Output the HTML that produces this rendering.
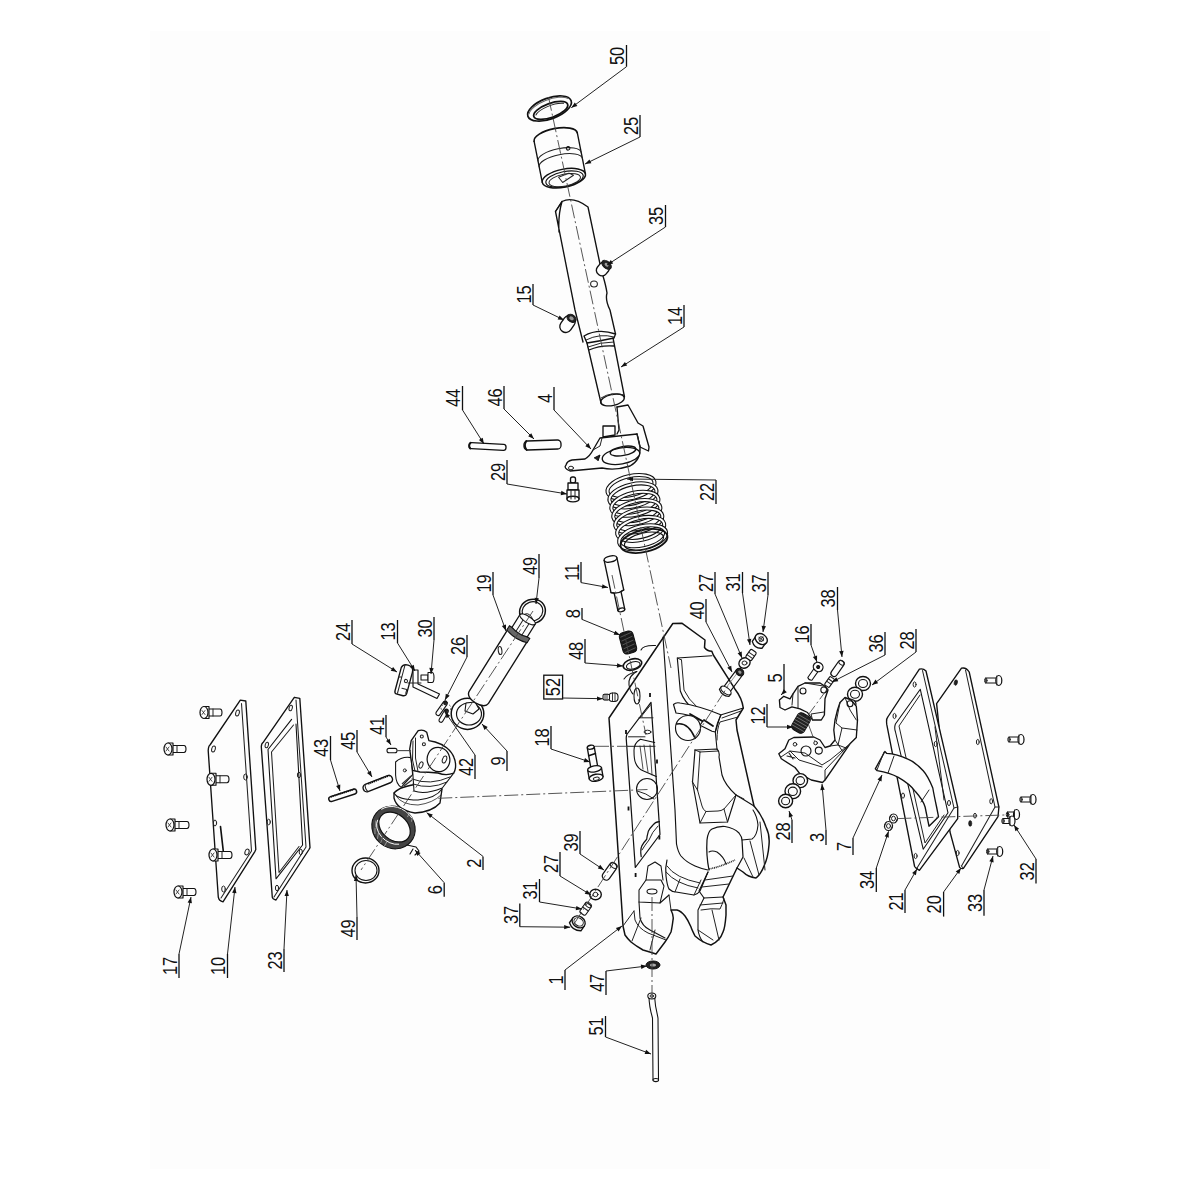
<!DOCTYPE html>
<html><head><meta charset="utf-8"><style>
html,body{margin:0;padding:0;background:#fff;width:1200px;height:1200px;overflow:hidden}
svg{display:block}
.lb{font-family:"Liberation Sans",sans-serif;font-size:20.5px;fill:#111;text-anchor:middle}
.ul{stroke:#111;stroke-width:1.3;fill:none}
.ld{stroke:#222;stroke-width:1;fill:none}
.ah{fill:#111}
.o{stroke:#111;stroke-width:1.35;fill:none;stroke-linejoin:round;stroke-linecap:round}
.of{stroke:#111;stroke-width:1.35;fill:#fdfdfd;stroke-linejoin:round;stroke-linecap:round}
.t{stroke:#222;stroke-width:1;fill:none;stroke-linejoin:round;stroke-linecap:round}
.c{stroke:#444;stroke-width:0.9;fill:none;stroke-dasharray:14 3 2 3}
.dk{fill:#222;stroke:#111;stroke-width:1}
</style></head><body>
<svg width="1200" height="1200" viewBox="0 0 1200 1200">
<rect x="0" y="0" width="1200" height="1200" fill="#fff"/>
<rect x="150" y="31" width="900" height="1138" fill="#fdfdfd"/>
<!-- centerline main -->
<!-- ring 50 -->
<g transform="translate(549.5,108.5) rotate(-20)">
<ellipse rx="23" ry="10.5" class="o" style="stroke-width:1.64"/>
<ellipse cx="0.5" cy="2.2" rx="18" ry="7" class="o" style="stroke-width:1.80"/>
<path d="M-15 1.5A17 6 0 0 1 15 0" class="t"/>
<path d="M-21 -2A22 9 0 0 1 21 -3" class="t" style="stroke:#666"/>
</g>
<!-- bushing 25 -->
<g transform="translate(555.7,137) rotate(-11.2)">
<path d="M-22 0A22 8.5 0 0 1 22 0" class="o" style="stroke-width:1.64"/>
<path d="M-22 0L-22 42M22 0L22 42" class="o"/>
<path d="M-22 20A22 8 0 0 1 22 20M-22 26A22 8 0 0 1 22 26" class="t" style="stroke-width:1.07"/>
<circle cx="10" cy="13.5" r="1.8" class="o" style="stroke-width:1.05"/>
<ellipse cx="0" cy="42" rx="22" ry="9" class="o" style="stroke-width:1.48"/>
<ellipse cx="0.5" cy="43" rx="19" ry="7.5" class="o" style="stroke-width:1.15"/>
<ellipse cx="0.5" cy="44" rx="16" ry="6" class="t"/>
<path d="M-5 40L6 38L10 41L-2 46Z" class="t"/>
</g>
<!-- shaft 14 -->
<path d="M562 201.5Q573 196 588 207L600 264M603 276Q606 286 607 293Q605 300 610 310L615.5 334M583 342L575 310L555.5 211.5L562 201.5Q558 215 559 232" class="o"/>
<path d="M562 201.5L555.5 211.5" class="o"/>
<path d="M584 336Q598 328 615.5 334L614 338Q600 341 587 343Z" class="of"/>
<path d="M586 340Q600 333 614 337" class="t"/>
<path d="M587 343L601 403M613 338L624.5 397M589 350Q600 345 614 346" class="o"/>
<path d="M588 347Q600 342 613.5 342" class="t"/>
<ellipse cx="612.5" cy="400" rx="12" ry="5.5" transform="rotate(-12 612.5 400)" class="o"/>
<path d="M601 398Q612 391 624 395" class="t"/>
<ellipse cx="594" cy="284" rx="3.4" ry="3" class="t" style="stroke-width:1.05"/>
<!-- pin 35 -->
<g transform="translate(603,269) rotate(40)">
<rect x="-5.5" y="-7" width="11" height="14" rx="5" class="of"/>
<ellipse cx="0" cy="-5.5" rx="5.5" ry="3.5" class="dk"/><ellipse cx="0" cy="-5.5" rx="2.2" ry="1.5" style="fill:#999"/>
</g>
<!-- pin 15 -->
<g transform="translate(567.5,324) rotate(35)">
<rect x="-6" y="-9" width="12" height="18" rx="6" class="of"/>
<ellipse cx="0" cy="-7" rx="5" ry="3.6" class="dk"/><ellipse cx="0" cy="-7" rx="2.4" ry="1.7" style="fill:#999"/>
</g>
<!-- pins 44, 46 -->
<g transform="translate(487.5,446.5) rotate(3)">
<rect x="-18.5" y="-3" width="37" height="6" rx="2.5" class="of"/>
<path d="M-17 -3Q-19.5 0 -17 3" class="o" style="stroke-width:1.80"/>
</g>
<g transform="translate(542.5,445) rotate(-2)">
<rect x="-18.5" y="-4.5" width="37" height="9" rx="3.5" class="of"/>
<path d="M-16 -4.5Q-19 0 -16 4.5" class="o" style="stroke-width:1.80"/>
</g>
<!-- part 29 -->
<g transform="translate(573,488)">
<rect x="-2.5" y="-11" width="5" height="6" rx="2" class="o"/>
<rect x="-5" y="-5" width="10" height="7" class="of"/>
<rect x="-6" y="2" width="12" height="9" class="of"/>
<ellipse cx="0" cy="11" rx="6" ry="2.8" class="of"/>
<path d="M-2 2V11M2 2V11" class="t"/>
</g>

<g transform="translate(631,487) rotate(-13)">
<ellipse cx="0" cy="0.0" rx="24" ry="11" style="fill:none;stroke:#111;stroke-width:4.10"/>
<ellipse cx="0" cy="0.0" rx="24" ry="11" style="fill:none;stroke:#fdfdfd;stroke-width:1.97"/>
<ellipse cx="0" cy="8.6" rx="24" ry="11" style="fill:none;stroke:#111;stroke-width:4.10"/>
<ellipse cx="0" cy="8.6" rx="24" ry="11" style="fill:none;stroke:#fdfdfd;stroke-width:1.97"/>
<ellipse cx="0" cy="17.2" rx="24" ry="11" style="fill:none;stroke:#111;stroke-width:4.10"/>
<ellipse cx="0" cy="17.2" rx="24" ry="11" style="fill:none;stroke:#fdfdfd;stroke-width:1.97"/>
<ellipse cx="0" cy="25.8" rx="24" ry="11" style="fill:none;stroke:#111;stroke-width:4.10"/>
<ellipse cx="0" cy="25.8" rx="24" ry="11" style="fill:none;stroke:#fdfdfd;stroke-width:1.97"/>
<ellipse cx="0" cy="34.4" rx="24" ry="11" style="fill:none;stroke:#111;stroke-width:4.10"/>
<ellipse cx="0" cy="34.4" rx="24" ry="11" style="fill:none;stroke:#fdfdfd;stroke-width:1.97"/>
<ellipse cx="0" cy="43.0" rx="24" ry="11" style="fill:none;stroke:#111;stroke-width:4.10"/>
<ellipse cx="0" cy="43.0" rx="24" ry="11" style="fill:none;stroke:#fdfdfd;stroke-width:1.97"/>
<ellipse cx="0" cy="51.6" rx="24" ry="11" style="fill:none;stroke:#111;stroke-width:4.10"/>
<ellipse cx="0" cy="51.6" rx="24" ry="11" style="fill:none;stroke:#fdfdfd;stroke-width:1.97"/>
</g>
<g transform="translate(644,541) rotate(-13)"><ellipse rx="24" ry="11" class="o" style="stroke-width:1.80"/><ellipse rx="20" ry="8" class="o" style="stroke-width:1.15"/></g>
<g>
<path d="M617 407L628 405L638 423L643 426L649 447L648.5 451L640 447L637 434" class="of"/>
<path d="M600 438L637 434L640 447Q641 460 630 466Q615 471 602 468L570 471Q563 468 566 465Q567 461 572 460L585 459Q590 456 593 450L600 438Z" class="of"/>
<path d="M617 407L619 430L617 434M603 426L615 426L615 435L603 437Z" class="o"/>
<ellipse cx="621" cy="456" rx="19" ry="8" transform="rotate(-10 621 456)" class="of"/>
<ellipse cx="623" cy="451" rx="13" ry="4.5" transform="rotate(-10 623 451)" class="o"/>
<path d="M593 450L600 446L602 438M637 434L640 447" class="t"/>
<ellipse cx="571" cy="468" rx="2.5" ry="1.8" class="t"/>
<path d="M594 458L600 455L598 461" class="dk"/>
</g>
<g transform="translate(610.5,559) rotate(-12)">
<path d="M-6.5 0L-6.5 33L-3.5 34L-3.5 52M6.5 0L6.5 33L3.5 34L3.5 52" class="o"/>
<ellipse cx="0" cy="0" rx="6.5" ry="3" class="of"/>
<path d="M-6.5 33Q0 36 6.5 33" class="o"/>
<ellipse cx="0" cy="52" rx="3.5" ry="1.8" class="o"/>
</g>
<g transform="translate(628,642.5) rotate(-15)"><rect x="-7" y="-11" width="14" height="22" rx="4" style="fill:#1a1a1a;stroke:#111;stroke-width:1.05"/><path d="M-6 -7L6 -9M-6 -3L6 -5M-6 1L6 -1M-6 5L6 3M-6 9L6 7" style="stroke:#666;stroke-width:0.70"/></g>
<g transform="translate(632.5,664.5) rotate(-15)"><ellipse rx="9.5" ry="5.5" class="o" style="stroke-width:1.64"/><ellipse cx="0.5" cy="1" rx="7" ry="3.5" class="o" style="stroke-width:1.05"/></g>
<g transform="translate(610,697)">
<rect x="-1" y="-4" width="9" height="8.5" rx="3.5" class="of" style="stroke-width:1.07"/>
<rect x="-7" y="-2.8" width="6.5" height="5.8" rx="1.5" class="of" style="stroke-width:1.05"/>
<path d="M-5 -2.8V3M-3 -2.8V3M2.5 -4V4.5M5 -4V4.5" class="t" style="stroke-width:0.90"/>
</g>
<g transform="translate(593,760) rotate(-10)">
<path d="M-3.5 -13L-3.5 8M3.5 -13L3.5 8" class="o"/>
<ellipse cx="0" cy="-13" rx="3.5" ry="2" class="of"/>
<path d="M-3.5 -5L3.5 -6" class="o" style="stroke-width:1.64"/>
<path d="M-7 9L-7 18M7 9L7 18" class="o"/>
<ellipse cx="0" cy="9" rx="7" ry="3" class="of"/>
<ellipse cx="0" cy="18" rx="7" ry="3.5" class="of"/>
<ellipse cx="0" cy="19" rx="3" ry="1.6" class="t"/>
</g>

<ellipse cx="467.5" cy="713.8" rx="16.3" ry="15.6" class="of" style="stroke-width:1.48"/>
<ellipse cx="469" cy="714" rx="12.5" ry="11" class="o" style="stroke-width:1.15"/>
<path d="M466 703L475 702L479 709L473 714L465 711Z" class="of" style="stroke-width:1.07"/>
<ellipse cx="532.5" cy="611.3" rx="13" ry="12" transform="rotate(-20 532.5 611.3)" class="o" style="stroke-width:1.48"/>
<ellipse cx="532.5" cy="611.3" rx="10.5" ry="9.5" transform="rotate(-20 532.5 611.3)" class="o" style="stroke-width:1.15"/>
<path d="M525 614Q530 612 533 620" class="t"/>
<g transform="translate(517.5,635.5) rotate(32)">
<path d="M-11.4 0L-11.4 73Q-11 79 0 79.5Q11 79 11.4 73L11.4 0Z" class="of"/>
<ellipse cx="-6.8" cy="22" rx="1.8" ry="4" transform="rotate(-40 -6.8 22)" class="t" style="stroke-width:1.07"/>
<path d="M-12 -4L-12 1Q0 5 12 1L12 -4Z" style="fill:#666;stroke:#111;stroke-width:1.05"/>
<path d="M-9 -19L-9 -4Q0 -1 9 -4L9 -19Z" class="of" style="stroke-width:1.15"/>
<path d="M-3.5 -17.5L-3.5 -2.5M3.5 -17.5L3.5 -2.5" class="t"/>
<ellipse cx="0" cy="-19" rx="9" ry="3.2" class="of" style="stroke-width:1.07"/>
</g>

<!-- main body part 1 silhouette -->
<path d="M672.8 623.5L681.8 623.2L705 640L704.5 647.5Q707 651 711.8 651.3L713.3 655L734.7 688.7Q742 698 743.3 708L736 720L737 730L754 806Q762 815 766 827Q770 835 769 845Q768 858 764 866Q761 874 756 878Q748 877 743 872L737 868L723 897L726 905L726 915Q725 928 723 932Q720 941 711 945Q703 943 695 936Q692 930 691 927Q688 920 685 916Q681 911 677 910L671 910Q674 916 673 920Q672 928 671 932Q668 938 665 942L656 954Q650 952 643 950Q636 946 631 942Q627 938 625 935L623 926L616 820L609 718Z" class="of" style="stroke-width:1.48"/>
<!-- left bosses behind edge -->
<path d="M641 650Q643 645 655.5 645.5M636.8 671.5Q628 676 629 685Q630 691 633 694" class="o" style="stroke-width:1.07"/>
<path d="M624 679Q627 674 636.8 671.5" class="o" style="stroke-width:1.05"/>
<!-- flange side boundary line -->
<path d="M663 637L675 810L676.5 844Q678 852 681 856Q686 862 695 866Q702 869 708 870" class="o" style="stroke-width:1.15"/>
<!-- window in flange -->
<path d="M651 702.3L626.8 734.5Q626 737 626.3 739.5L635.3 867.5L660 834.5L651 702.3Z" class="o" style="stroke-width:1.23"/>
<path d="M639 717.8L653 717.8M628.5 736.8L645 736.8M627 746.3L655 746.3" class="t"/>
<ellipse cx="647.5" cy="732" rx="3.5" ry="1.8" class="t"/>
<path d="M650.5 705L640 718" class="t"/>
<path d="M654.7 742.4L640.4 739.2Q634 743 634 750.3Q634 760 635.6 763Q638 769 643.6 771L656.3 776.5" class="o" style="stroke-width:1.07"/>
<path d="M640 746L643 769M644 745L648 772M650 745L652 775" class="t" style="stroke-width:0.80"/>
<circle cx="647" cy="789" r="10.5" class="o" style="stroke-width:1.07"/>
<path d="M637.5 791Q646 793 654 799" class="t"/>
<path d="M659.4 821.7Q655 822 653 825Q650 828 648.3 831.3Q647 836 646.7 839.2Q644 842 642 845.6Q640 850 641.2 856.7" class="o" style="stroke-width:1.23"/>
<path d="M658 826Q652 832 649 840Q645 845 642 850" class="t"/>
<ellipse cx="637" cy="696" rx="3" ry="8" class="o" style="stroke-width:1.05"/>
<path d="M650 693L650 697M626 730L626 734M657 759.5L657 763.5M628.5 806.5L628.5 810.5M659.4 835.5L659.4 839.5M635.6 873L635.6 877" style="stroke:#111;stroke-width:1.80"/>
<!-- pocket 1 upper -->
<path d="M677.3 658L711.8 655.8M677.3 658L680.3 691Q684 702 696 712L710.3 716.5" class="o" style="stroke-width:1.15"/>
<path d="M681.5 660L684 690Q688 699 698 708L712 712" class="t"/>
<path d="M677.3 658L681.5 660" class="t"/>
<!-- curved slot & circle boss -->
<path d="M673.5 704.5Q676 702 680 703Q700 706 720.7 714.7L715.3 732L712 731.3L700 725.3L702.7 721.3Q690 714 676 713Z" class="of" style="stroke-width:1.15"/>
<path d="M690 714L702.7 721.3M704 720L713 726" class="o" style="stroke-width:1.80"/>
<circle cx="688" cy="728" r="12.5" class="of" style="stroke-width:1.15"/>
<path d="M677 724Q688 722 695 738" class="o" style="stroke-width:1.64"/>
<path d="M743.3 708L721.3 714.7Q717 722 715.3 732L717 749" class="o" style="stroke-width:1.07"/>
<path d="M741 711L722 718M738 717L720 722Q717 728 717 740" class="t"/>
<!-- pocket 2 middle -->
<path d="M695 750L717 749Q720 752 719 757L722 775Q725 785 736 795Q746 801 754 806" class="o" style="stroke-width:1.15"/>
<path d="M695 750L692.5 782L700 823L727.5 822L736 795" class="o" style="stroke-width:1.15"/>
<path d="M700 752L718.5 751M697.5 790L702 806Q703 810 706 811.5L718 811Q721 811 724 809L736 795M700 752L697.5 790" class="t"/>
<path d="M695 750L700 752M692.5 782L697.5 790M700 823L706 811.5M727.5 822L724 809M744 799L736 795" class="t"/>
<!-- arch cutout -->
<path d="M709 870Q706 855 707 840Q708 831 712 829Q718 826 725 826.5Q734 828 739 833Q742 837 742 840L743 857L737 868" class="o" style="stroke-width:1.23"/>
<path d="M709 852Q712 850 717 852Q724 857 726 864" class="o" style="stroke-width:1.07"/>
<path d="M709 869Q720 867 735 860" style="stroke:#222;stroke-width:1.64;fill:none;stroke-dasharray:1 0.8"/>
<!-- bulge inner lines -->
<path d="M742 840L752 839Q757 836 758 825Q757 816 753 810" class="o" style="stroke-width:1.07"/>
<path d="M750 841L759 875M744 858L753 877M760 822L765 870" class="t"/>
<!-- boss bottom ring -->
<path d="M667 860Q665 868 666 876Q667 885 669 889Q672 892 676 892L694 895Q698 894 700 891L708 872" class="o" style="stroke-width:1.15"/>
<path d="M667 866Q675 878 700 883M666 872Q676 884 698 888" class="t"/>
<path d="M675 892L680 879M694 895L701 880" class="t"/>
<!-- lower section and foot 2 -->
<path d="M708 872L699 891L704 898L723 897" class="o" style="stroke-width:1.15"/>
<path d="M705 880L733 876M702 887L729 884" class="t"/>
<path d="M704 898L698 910L698 930Q699 937 703 942" class="o" style="stroke-width:1.07"/>
<path d="M700 905L723 903M701 910Q712 908 720 909Q722 905 724 899M712 910L719 940M698 930L713 940" class="t"/>
<!-- foot 1 block with hole -->
<path d="M639 890L646 880L661 880L664 886L660 903L639 902Z" class="of" style="stroke-width:1.07"/>
<path d="M646 880L648 866L655 862L661 866L663 880M660 903L669 895" class="o" style="stroke-width:1.05"/>
<ellipse cx="652" cy="891.5" rx="5" ry="2.5" class="o" style="stroke-width:1.05"/>
<path d="M639 902L640 918Q642 926 650 930L665 938" class="o" style="stroke-width:1.07"/>
<path d="M634 911L623 926M634 911L635 920Q638 928 648 933L666 940" class="t"/>
<path d="M669 895L671 910M655 930L650 950M641 918L632 941" class="t"/>

<!-- plate 10 -->
<path d="M240.3 700.1L245.8 701L255.8 849.5L255 851.3L223 901.8Q219 901 218.3 897.2L208.2 750.5Q208.5 746 210 745Z" class="of"/>
<path d="M241.5 703.5L251.5 851L221 898" class="t" style="stroke-width:1.05"/>
<ellipse cx="237.5" cy="713" rx="1.8" ry="3" transform="rotate(15 237.5 713)" class="t"/>
<ellipse cx="213.5" cy="749" rx="1.8" ry="3" transform="rotate(15 213.5 749)" class="t"/>
<ellipse cx="245.5" cy="777" rx="1.8" ry="3" class="t"/>
<ellipse cx="215" cy="823" rx="1.6" ry="3" class="t"/>
<ellipse cx="247" cy="852" rx="2" ry="3" transform="rotate(20 247 852)" class="t"/>
<ellipse cx="223.5" cy="889" rx="1.8" ry="3" class="t"/>
<path d="M220.5 826.6L223.5 853" class="o" style="stroke-width:1.64"/>
<!-- plate 23 -->
<path d="M294.3 697.3L299.8 698.3L310 847.7L309 849.5L276 900Q272.5 899 272.3 897.2L261.3 746.8Q261.5 743 263.2 742.3Z" class="of"/>
<path d="M296 700L306 847L274 897" class="t" style="stroke-width:1.05"/>
<path d="M291.6 719.3L268 749.5L276 878.8L302.6 845L296 724" class="o" style="stroke-width:1.07"/>
<path d="M293.5 725L271.5 752L279 872.5L299 846.5" class="t" style="stroke-width:1.05"/>
<ellipse cx="290.7" cy="708" rx="1.6" ry="2.8" transform="rotate(15 290.7 708)" class="t"/>
<ellipse cx="266.8" cy="745" rx="1.6" ry="2.8" transform="rotate(15 266.8 745)" class="t"/>
<ellipse cx="299" cy="775" rx="1.6" ry="2.8" class="t"/>
<ellipse cx="268.7" cy="822" rx="1.6" ry="2.8" class="t"/>
<ellipse cx="300.8" cy="852" rx="1.6" ry="2.8" class="t"/>
<ellipse cx="277" cy="888" rx="1.6" ry="2.8" class="t"/>

<g transform="translate(200,712.5)">
<path d="M9 -3.5H20Q22 -3.5 22 0Q22 3.5 20 3.5H9" class="of" style="stroke-width:1.07"/>
<path d="M13 -3.5V3.5" class="t"/>
<path d="M4 -6H9V6H4Z" class="of" style="stroke-width:1.15"/>
<ellipse cx="4" cy="0" rx="4" ry="6" class="of" style="stroke-width:1.23"/>
<path d="M2 -2L5 2M2 2L5 -2" class="t" style="stroke-width:0.80"/>
</g>
<g transform="translate(164,749)">
<path d="M9 -3.5H20Q22 -3.5 22 0Q22 3.5 20 3.5H9" class="of" style="stroke-width:1.07"/>
<path d="M13 -3.5V3.5" class="t"/>
<path d="M4 -6H9V6H4Z" class="of" style="stroke-width:1.15"/>
<ellipse cx="4" cy="0" rx="4" ry="6" class="of" style="stroke-width:1.23"/>
<path d="M2 -2L5 2M2 2L5 -2" class="t" style="stroke-width:0.80"/>
</g>
<g transform="translate(207,779.3)">
<path d="M9 -3.5H20Q22 -3.5 22 0Q22 3.5 20 3.5H9" class="of" style="stroke-width:1.07"/>
<path d="M13 -3.5V3.5" class="t"/>
<path d="M4 -6H9V6H4Z" class="of" style="stroke-width:1.15"/>
<ellipse cx="4" cy="0" rx="4" ry="6" class="of" style="stroke-width:1.23"/>
<path d="M2 -2L5 2M2 2L5 -2" class="t" style="stroke-width:0.80"/>
</g>
<g transform="translate(166,825)">
<path d="M9 -3.5H21Q23 -3.5 23 0Q23 3.5 21 3.5H9" class="of" style="stroke-width:1.07"/>
<path d="M13 -3.5V3.5" class="t"/>
<path d="M4 -6H9V6H4Z" class="of" style="stroke-width:1.15"/>
<ellipse cx="4" cy="0" rx="4" ry="6" class="of" style="stroke-width:1.23"/>
<path d="M2 -2L5 2M2 2L5 -2" class="t" style="stroke-width:0.80"/>
</g>
<g transform="translate(209,855)">
<path d="M9 -3.5H21Q23 -3.5 23 0Q23 3.5 21 3.5H9" class="of" style="stroke-width:1.07"/>
<path d="M13 -3.5V3.5" class="t"/>
<path d="M4 -6H9V6H4Z" class="of" style="stroke-width:1.15"/>
<ellipse cx="4" cy="0" rx="4" ry="6" class="of" style="stroke-width:1.23"/>
<path d="M2 -2L5 2M2 2L5 -2" class="t" style="stroke-width:0.80"/>
</g>
<g transform="translate(174,892)">
<path d="M9 -3.5H20Q22 -3.5 22 0Q22 3.5 20 3.5H9" class="of" style="stroke-width:1.07"/>
<path d="M13 -3.5V3.5" class="t"/>
<path d="M4 -6H9V6H4Z" class="of" style="stroke-width:1.15"/>
<ellipse cx="4" cy="0" rx="4" ry="6" class="of" style="stroke-width:1.23"/>
<path d="M2 -2L5 2M2 2L5 -2" class="t" style="stroke-width:0.80"/>
</g>
<!-- part 24 -->
<g transform="translate(404,680.5) rotate(15)">
<path d="M-6 -12Q-5 -16 0 -16Q6 -16 6 -10L6 12Q6 15 2 15L-4 15Q-6 15 -6 12Z" class="of"/>
<path d="M-3 -15L-3 14M-6 -2L-3 -3" class="t"/>
<circle cx="2" cy="0" r="1.6" class="t"/>
<path d="M0 8L5 8L5 12" class="t"/>
</g>
<!-- part 13 L-rod -->
<path d="M413 670L418 670L418 684L439.5 694L437 698.5L413 687Z" class="of" style="stroke-width:1.15"/>
<path d="M408 683L421 683" class="t"/>
<!-- part 30 -->
<g transform="translate(427,677.5)">
<path d="M-6 -2.5H1V2.5H-6Z" class="of" style="stroke-width:1.05"/>
<path d="M1 -5H5Q7 -5 7 0Q7 5 5 5H1Z" class="of" style="stroke-width:1.07"/>
</g>
<!-- part 26 -->
<g transform="translate(441.5,708.5) rotate(-55)"><rect x="-8" y="-2.2" width="16" height="4.4" rx="2" class="of" style="stroke-width:1.07"/><circle cx="7" cy="0" r="1.8" class="dk"/></g>
<g transform="translate(443.5,716) rotate(-60)"><rect x="-7" y="-2" width="14" height="4" rx="2" class="of" style="stroke-width:1.07"/><circle cx="6" cy="0" r="1.8" class="dk"/></g>
<ellipse cx="446" cy="708" rx="5" ry="4" class="c" style="stroke-dasharray:2 2"/>
<!-- part 41 -->
<rect x="387" y="748.4" width="10" height="4.3" rx="2" class="of" style="stroke-width:1.07"/>
<path d="M397 750.6L411 750.6" class="t" style="stroke:#777"/>
<!-- pin 43 -->
<g transform="translate(342.7,795.3) rotate(-18)">
<rect x="-14.5" y="-2.5" width="29" height="5" rx="2.5" class="of" style="stroke-width:1.48"/>
<path d="M-12 -2.2H13" style="stroke:#111;stroke-width:1.80;stroke-dasharray:1.2 0.8"/>
</g>
<!-- pin 45 -->
<g transform="translate(377.8,783.6) rotate(-21.5)">
<rect x="-15.5" y="-3.8" width="31" height="7.6" rx="3.5" class="of" style="stroke-width:1.39"/>
<path d="M-9 -3.3H14" style="stroke:#111;stroke-width:1.80;stroke-dasharray:1.2 0.8"/>
<path d="M-12 -3.8Q-14 0 -12 3.8" class="t"/>
</g>
<!-- part 2 collar -->
<g>
<path d="M394 793L394 798Q397 810 415 813Q432 812 440 803L442 789Q432 783 420 784Q400 786 394 793Z" class="of"/>
<path d="M394 793Q398 800 418 800Q436 798 442 789" class="o" style="stroke-width:1.07"/>
<path d="M396 796Q402 805 418 805Q433 803 441 795" class="t" style="stroke-width:0.80"/>
<path d="M412.6 770L414 791Q425 795 442.3 788L453.7 773.2Z" class="of" style="stroke-width:1.07"/>
<path d="M412 779Q430 786 450 777M413 784Q430 790 447 782" class="t"/>
<path d="M395.6 762Q402 756 411.2 757.6L412.6 774.6L401.2 787.4Q396 784 395.6 775Z" class="of" style="stroke-width:1.07"/>
<circle cx="404.8" cy="770.4" r="1.5" class="t"/>
<path d="M402 784L411 776M404 786L412 780" style="stroke:#333;stroke-width:1.31;fill:none"/>
<path d="M418.2 730.7Q423 729 426.7 732.2L428.9 740.7L435.2 742Q442 744 446.6 747.7Q452 752 454 757.6Q456 762 455.5 767.6Q455 771 453.7 773.2Q446 776 438 773Q428 772 420 772L412.6 770.4L409.7 749.2L411.2 740.7Z" class="of"/>
<path d="M413 741L412.5 760L415 771M415.5 738L415.5 758L418 771.5" class="t"/>
<ellipse cx="438.5" cy="759.5" rx="11.3" ry="12.2" transform="rotate(-15 438.5 759.5)" class="o" style="stroke-width:1.23"/>
<ellipse cx="444.5" cy="759.5" rx="2" ry="3.6" transform="rotate(20 444.5 759.5)" class="t" style="stroke-width:1.05"/>
<circle cx="421.8" cy="736.4" r="1.5" class="t" style="stroke-width:1.05"/>
<circle cx="423.9" cy="744.2" r="1.5" class="t" style="stroke-width:1.05"/>
<ellipse cx="421" cy="765" rx="1.8" ry="3.3" transform="rotate(20 421 765)" class="t" style="stroke-width:1.05"/>
</g>
<!-- spring 6 -->
<g transform="translate(393.5,827.5) rotate(40)">
<ellipse rx="22.5" ry="20.5" style="fill:#444;stroke:#111;stroke-width:1.07"/>
<path d="M-14 12L-10 17M-8 14L-5 19M-2 15L0 20M4 15L5 20M-18 6L-14 11M10 -16L8 -20M4 -17L3 -20.5" style="stroke:#999;stroke-width:0.90"/>
<path d="M-21 -6A22 19 0 0 1 8 -19" style="fill:none;stroke:#fdfdfd;stroke-width:0.90"/>
<ellipse cx="0.5" cy="-1" rx="17.5" ry="12.8" class="of" style="stroke-width:1.23"/>
<path d="M-17 2A17.5 12.8 0 0 0 15 7" style="fill:none;stroke:#fdfdfd;stroke-width:0.90;transform:translate(0,2.2px)"/>
</g>
<path d="M407 845L416 847L419 851L415 855M413 849L410 854" class="o" style="stroke-width:1.15"/>
<!-- ring 49 lower -->
<ellipse cx="365.5" cy="870.5" rx="13.5" ry="12.5" class="o" style="stroke-width:1.39"/>
<ellipse cx="366" cy="870.5" rx="11" ry="10" class="o" style="stroke-width:1.07"/>

<!-- plate 20 -->
<path d="M961.5 668.2Q966 667 969.2 672L998.9 807L998 816.7L963.4 868.4Q961 869 959.6 867.4L950 832L936.6 703.6Z" class="of"/>
<path d="M965.5 670L995 807L961.5 866" class="t" style="stroke-width:1.05"/>
<path d="M995 807L998.9 807M961.5 866L963.4 868.4" class="t"/>
<ellipse cx="955.8" cy="682.6" rx="1.6" ry="2.8" transform="rotate(15 955.8 682.6)" class="dk" style="stroke-width:0.60"/>
<ellipse cx="977.8" cy="742" rx="1.4" ry="2.6" class="t"/>
<ellipse cx="991.2" cy="801.3" rx="1.4" ry="2.6" class="t"/>
<ellipse cx="975" cy="815.7" rx="1.4" ry="2.4" class="t"/>
<ellipse cx="970.2" cy="823.4" rx="1.6" ry="2.8" class="dk" style="stroke-width:0.60"/>
<ellipse cx="957.7" cy="853" rx="1.4" ry="2.6" class="t"/>
<!-- gasket 21 -->
<path d="M919.4 669.2Q923 668 926 671L957.7 807L957.7 818.6L919.4 870.3Q916 869 914.6 866.5L886.8 724.7Q886 719 887.8 717Z" class="of"/>
<path d="M922.5 670.5L954 808L917 868" class="t" style="stroke-width:1.05"/>
<path d="M954 808L957.7 807M917 868L919.4 870.3" class="t"/>
<path d="M920.3 689.3L895.4 724Q894 728 895.5 732L923.2 849.2L948 812.8Z" class="o" style="stroke-width:1.07"/>
<path d="M920 695L899 726L925 843L944 815" class="t"/>
<path d="M935 727L944 800" class="t"/>
<ellipse cx="914.6" cy="684.5" rx="1.5" ry="2.6" class="t"/>
<ellipse cx="894.5" cy="716" rx="1.5" ry="2.6" class="t"/>
<ellipse cx="935.7" cy="744" rx="1.5" ry="2.6" class="t"/>
<ellipse cx="903" cy="795.6" rx="1.5" ry="2.6" class="t"/>
<ellipse cx="949" cy="803" rx="1.5" ry="2.6" class="t"/>
<ellipse cx="915.6" cy="856" rx="1.5" ry="2.6" class="t"/>
<!-- duct 7 -->
<path d="M884.9 751.5L875.3 768.8L877.2 770.7Q890 773 898.3 777.4Q910 784 915.6 791.8Q923 800 925.1 807L929 826.2L938.5 816.7L936.6 807Q934 795 932.8 788Q928 776 923.2 770.7Q915 762 907.9 759.2Q897 754 886.8 753.4Z" class="of"/>
<path d="M894 756L888 773M929 790L921 802" class="t"/>
<path d="M877 770L884 752" class="t"/>

<g transform="translate(893.5,818.5)"><ellipse rx="4" ry="4.5" class="of" style="stroke-width:1.15"/><ellipse rx="2" ry="2.3" class="t"/><path d="M-4 0L-2 -4M4 0L2 4" class="t"/></g>
<g transform="translate(888.5,826)"><ellipse rx="4" ry="4.5" class="of" style="stroke-width:1.15"/><ellipse rx="2" ry="2.3" class="t"/><path d="M-4 0L-2 -4M4 0L2 4" class="t"/></g>
<g transform="translate(1001.8,680.5)">
<path d="M-5 -2.5H-16V2.5H-5" class="of" style="stroke-width:1.07"/>
<ellipse cx="-16" cy="0" rx="1.2" ry="2.5" class="t"/>
<ellipse cx="-3" cy="0" rx="3" ry="5" class="of" style="stroke-width:1.23"/>
<path d="M-5 -4.5V4.5" class="t"/>
</g>
<g transform="translate(1024,739.5)">
<path d="M-5 -2.5H-15V2.5H-5" class="of" style="stroke-width:1.07"/>
<ellipse cx="-15" cy="0" rx="1.2" ry="2.5" class="t"/>
<ellipse cx="-3" cy="0" rx="3" ry="5" class="of" style="stroke-width:1.23"/>
<path d="M-5 -4.5V4.5" class="t"/>
</g>
<g transform="translate(1036,799.5)">
<path d="M-5 -2.5H-15V2.5H-5" class="of" style="stroke-width:1.07"/>
<ellipse cx="-15" cy="0" rx="1.2" ry="2.5" class="t"/>
<ellipse cx="-3" cy="0" rx="3" ry="5" class="of" style="stroke-width:1.23"/>
<path d="M-5 -4.5V4.5" class="t"/>
</g>
<g transform="translate(1002.7,851.5)">
<path d="M-5 -2.5H-15V2.5H-5" class="of" style="stroke-width:1.07"/>
<ellipse cx="-15" cy="0" rx="1.2" ry="2.5" class="t"/>
<ellipse cx="-3" cy="0" rx="3" ry="5" class="of" style="stroke-width:1.23"/>
<path d="M-5 -4.5V4.5" class="t"/>
</g>
<g transform="translate(1019.5,814.5)">
<path d="M-5 -2.5H-12V2.5H-5" class="of" style="stroke-width:1.07"/>
<ellipse cx="-12" cy="0" rx="1.2" ry="2.5" class="t"/>
<ellipse cx="-3" cy="0" rx="3" ry="5" class="of" style="stroke-width:1.23"/>
<path d="M-5 -4.5V4.5" class="t"/>
</g>
<g transform="translate(1015,821)">
<path d="M-5 -2.5H-12V2.5H-5" class="of" style="stroke-width:1.07"/>
<ellipse cx="-12" cy="0" rx="1.2" ry="2.5" class="t"/>
<ellipse cx="-3" cy="0" rx="3" ry="5" class="of" style="stroke-width:1.23"/>
<path d="M-5 -4.5V4.5" class="t"/>
</g>
<!-- pin 40 -->
<g transform="translate(732,682.5) rotate(37)">
<path d="M-4 -13L-4 10M4 -13L4 10" class="o" style="stroke-width:1.15"/>
<path d="M-1.5 -11L-1.5 9" class="t" style="stroke:#888;stroke-width:0.80"/>
<path d="M-6 10L-6 13Q0 17 6 13L6 10" class="of" style="stroke-width:1.15"/>
<ellipse cx="0" cy="10" rx="6" ry="3" class="of" style="stroke-width:1.15"/>
<ellipse cx="0" cy="-13" rx="4.2" ry="3.5" class="dk"/>
<ellipse cx="0" cy="-13" rx="1.8" ry="1.4" style="fill:#999"/>
</g>
<!-- washer 27 upper -->
<ellipse cx="744.5" cy="663" rx="5.8" ry="5" transform="rotate(-30 744.5 663)" class="of" style="stroke-width:1.31"/>
<ellipse cx="744.5" cy="663" rx="2.5" ry="2" class="t"/>
<!-- 31 upper -->
<g transform="translate(751,655) rotate(35)"><rect x="-3.5" y="-5" width="7" height="10" rx="1.5" class="of" style="stroke-width:1.07"/><path d="M-3.5 -1H3.5M-3.5 2H3.5" class="t"/></g>
<!-- 37 upper cap -->
<g transform="translate(759.5,641.5) rotate(35)">
<path d="M-6 -3L-6 4Q0 9 6 4L6 -3" class="of"/>
<ellipse cx="0" cy="-3" rx="6.5" ry="5" class="of" style="stroke-width:1.39"/>
<circle cx="0" cy="-3" r="2.2" class="t"/><path d="M-3 -3H3M0 -6V0" class="t" style="stroke-width:0.70"/>
</g>
<!-- part 5 -->
<path d="M779.4 700L783.8 696.3L790 698.8L793 693.8L798 686.3L805 683L820 683L825 686.3L828 690L825 698.8L824.4 715L821.3 720L812.5 720L807.5 712.5L800 708.8L791.9 706.9L785 710L780 707.5Z" class="of"/>
<path d="M793 693.8L792 705M798 686.3L798 708M812.5 720L811 714L824 712" class="t"/>
<circle cx="803" cy="691" r="3" class="o" style="stroke-width:1.07"/>
<circle cx="823.8" cy="690" r="3" class="o" style="stroke-width:1.07"/>
<path d="M805 683L825 686.3" class="t"/>
<!-- spring 12 dark -->
<g transform="translate(801,723) rotate(30)"><rect x="-7" y="-9.5" width="14" height="19" rx="4" class="dk"/><path d="M-7 -6H7M-7 -3H7M-7 0H7M-7 3H7M-7 6H7" style="stroke:#777;stroke-width:0.80"/></g>
<!-- part 16 -->
<g transform="translate(815,671.5) rotate(35)">
<path d="M-2.5 -5L-2.5 9Q0 11 2.5 9L2.5 -5" class="of" style="stroke-width:1.07"/>
<ellipse cx="0" cy="-5.5" rx="5" ry="4.5" class="of" style="stroke-width:1.31"/>
<circle cx="0" cy="-5.5" r="1.5" class="dk"/>
</g>
<!-- part 38 -->
<g transform="translate(837.5,668.5) rotate(35)"><rect x="-3.2" y="-9" width="6.4" height="18" rx="3" class="of" style="stroke-width:1.23"/><ellipse cx="0" cy="-7" rx="3" ry="2" class="t"/></g>
<!-- part 36 -->
<g transform="translate(829.5,682) rotate(35)"><rect x="-2.8" y="-5" width="5.6" height="10" rx="1" class="of" style="stroke-width:1.05"/><path d="M-2.8 -2H2.8M-2.8 1H2.8" class="t"/></g>
<!-- rings 28 upper -->
<ellipse cx="863" cy="683.5" rx="7.5" ry="7" class="o" style="stroke-width:1.39"/><ellipse cx="863" cy="683.5" rx="4.5" ry="4" class="o" style="stroke-width:1.07"/>
<ellipse cx="855" cy="694.2" rx="7.5" ry="7" class="of" style="stroke-width:1.39"/><ellipse cx="855" cy="694.2" rx="4.5" ry="4" class="o" style="stroke-width:1.07"/>
<ellipse cx="850" cy="704" rx="6" ry="5" class="of" style="stroke-width:1.23"/>
<!-- part 3 -->
<path d="M778.8 753.8L785 748.8L788.8 740L793.8 737.5L813.8 737L820 740L825 747.5L830 746L835 740L833.8 730L835 720L837.5 710L840 702.5L845 697.5L851.3 700L856.3 706.3L857.5 720L856.3 737.5L850 743.8L825 780L822.5 782.5L811.3 780L800 773.8L795 767.5L781.3 758.8Z" class="of"/>
<path d="M781 757L790 751L805 753L822 765L830 760L850 743.8M790 751L799 760L822 767M825 780L825 770L850 743.8" class="t"/>
<path d="M840 702.5L836 723L842 728L838 745L830 746M845 697.5L850 710L856.3 720M842 728L857 730" class="t"/>
<path d="M835 740L843 752M838 745L846 748" class="t"/>
<circle cx="806" cy="751" r="5" class="o" style="stroke-width:1.15"/>
<circle cx="818.8" cy="750.6" r="3.5" class="o" style="stroke-width:1.07"/>
<circle cx="795" cy="744.3" r="1.8" class="t"/>
<circle cx="815.6" cy="743" r="1.8" class="t"/>
<circle cx="850" cy="703.8" r="3" class="o" style="stroke-width:1.05"/>
<path d="M787 756L795 758M789 753L793 759" class="t" style="stroke-width:1.15"/>
<!-- rings 28 lower -->
<ellipse cx="800.3" cy="780.6" rx="7.3" ry="7" class="of" style="stroke-width:1.39"/><ellipse cx="800.3" cy="780.6" rx="4.2" ry="4" class="o" style="stroke-width:1.07"/>
<ellipse cx="792.8" cy="791.3" rx="7.8" ry="7.5" class="of" style="stroke-width:1.39"/><ellipse cx="792.8" cy="791.3" rx="4.5" ry="4.2" class="o" style="stroke-width:1.07"/>
<ellipse cx="785.6" cy="801" rx="7" ry="6.8" class="of" style="stroke-width:1.39"/><ellipse cx="785.6" cy="801" rx="4" ry="3.8" class="o" style="stroke-width:1.07"/>
<!-- lower small parts 39 27 31 37 -->
<g transform="translate(609.5,871.5) rotate(35)"><rect x="-4" y="-9.5" width="8" height="19" rx="3.8" class="of" style="stroke-width:1.23"/><ellipse cx="0" cy="-7.5" rx="3.8" ry="2.5" class="t"/></g>
<ellipse cx="595.5" cy="894.5" rx="5.8" ry="5.3" class="of" style="stroke-width:1.39"/><ellipse cx="595.5" cy="894.5" rx="2.5" ry="2.2" class="t"/>
<g transform="translate(585.5,909) rotate(35)"><rect x="-3.5" y="-6" width="7" height="12" rx="2" class="of" style="stroke-width:1.07"/><ellipse cx="0" cy="-5" rx="3.5" ry="2.2" class="t"/><path d="M-3.5 0H3.5" class="t"/></g>
<g transform="translate(577.5,923.5) rotate(35)">
<path d="M-7 -2L-7 4Q0 9 7 4L7 -2" class="of"/>
<ellipse cx="0" cy="-2" rx="7" ry="5.5" class="of" style="stroke-width:1.31"/>
<ellipse cx="0" cy="-2" rx="5" ry="3.8" class="t"/>
</g>
<!-- washer 47 -->
<ellipse cx="653" cy="965" rx="7" ry="4" class="dk" style="fill:#222"/><ellipse cx="653" cy="965" rx="3" ry="1.6" style="fill:#aaa"/>
<!-- tube 51 -->
<path d="M649 996Q649 1006 652.5 1018L653 1080M654.5 996Q655 1006 658 1018L658.5 1080" class="o" style="stroke-width:1.07"/>
<ellipse cx="651.8" cy="996" rx="4" ry="3" class="of" style="stroke-width:1.07"/>
<ellipse cx="651.8" cy="996" rx="1.8" ry="1.2" class="t"/>
<ellipse cx="655.8" cy="1080" rx="2.8" ry="1.6" class="of" style="stroke-width:1.05"/>

<path d="M548.5 97L671 668" class="c"/>
<path d="M533 611L447.5 740L361 870" class="c"/>
<path d="M595 746.3L628 746.3" class="c"/>
<path d="M438.3 798.3L647.5 789.5" class="c"/>
<path d="M897.4 818.6L1010 814.8" class="c"/>
<path d="M652 897L652 1000" class="c"/>
<path d="M574 924L728 686" class="c"/>
<path d="M612 575L646 735" class="c"/>
<path d="M828 688L806 718L815 742" class="c"/>
<path d="M397 750.6L411 750.6" class="c"/>

<text transform="translate(624.3,55.9) rotate(-90) scale(0.8,1)" class="lb">50</text>
<path d="M626.5 45V66.7" class="ul"/>
<path d="M626.5 66.7L571.3 107.7" class="ld"/>
<path d="M571.3 107.7L574.8 102.4L577.4 105.9Z" class="ah"/>
<text transform="translate(637.8,126.0) rotate(-90) scale(0.8,1)" class="lb">25</text>
<path d="M640 115V137" class="ul"/>
<path d="M640 137L585 164" class="ld"/>
<path d="M585.0 164.0L589.4 159.4L591.4 163.3Z" class="ah"/>
<text transform="translate(663.3,216.0) rotate(-90) scale(0.8,1)" class="lb">35</text>
<path d="M665.5 205V227" class="ul"/>
<path d="M665.5 227L607 265" class="ld"/>
<path d="M607.0 265.0L610.8 259.9L613.2 263.6Z" class="ah"/>
<text transform="translate(530.8,294.5) rotate(-90) scale(0.8,1)" class="lb">15</text>
<path d="M533 284V305" class="ul"/>
<path d="M533 305L564 320" class="ld"/>
<path d="M564.0 320.0L557.6 319.4L559.6 315.4Z" class="ah"/>
<text transform="translate(681.8,316.0) rotate(-90) scale(0.8,1)" class="lb">14</text>
<path d="M684 305V327" class="ul"/>
<path d="M684 327L621 367" class="ld"/>
<path d="M621.0 367.0L624.9 361.9L627.2 365.6Z" class="ah"/>
<text transform="translate(460.3,398.0) rotate(-90) scale(0.8,1)" class="lb">44</text>
<path d="M462.5 386V410" class="ul"/>
<path d="M462.5 410L484 444" class="ld"/>
<path d="M484.0 444.0L478.9 440.1L482.7 437.8Z" class="ah"/>
<text transform="translate(501.8,397.5) rotate(-90) scale(0.8,1)" class="lb">46</text>
<path d="M504 386V409" class="ul"/>
<path d="M504 409L534 439" class="ld"/>
<path d="M534.0 439.0L528.2 436.3L531.3 433.2Z" class="ah"/>
<text transform="translate(551.8,398.5) rotate(-90) scale(0.8,1)" class="lb">4</text>
<path d="M554 387V410" class="ul"/>
<path d="M554 410L591 449" class="ld"/>
<path d="M591.0 449.0L585.3 446.2L588.5 443.1Z" class="ah"/>
<text transform="translate(504.8,472.0) rotate(-90) scale(0.8,1)" class="lb">29</text>
<path d="M507 460V484" class="ul"/>
<path d="M507 484L567 494" class="ld"/>
<path d="M567.0 494.0L560.7 495.2L561.4 490.8Z" class="ah"/>
<text transform="translate(713.8,492.0) rotate(-90) scale(0.8,1)" class="lb">22</text>
<path d="M716 480V504" class="ul"/>
<path d="M716 480L627 479" class="ld"/>
<path d="M627.0 479.0L633.0 476.9L633.0 481.3Z" class="ah"/>
<text transform="translate(536.8,566.0) rotate(-90) scale(0.8,1)" class="lb">49</text>
<path d="M539 554V578" class="ul"/>
<path d="M539 578L536 604" class="ld"/>
<path d="M536.0 604.0L534.5 597.8L538.9 598.3Z" class="ah"/>
<text transform="translate(578.8,572.3) rotate(-90) scale(0.8,1)" class="lb">11</text>
<path d="M581 562V582.6" class="ul"/>
<path d="M581 582.6L608 587.5" class="ld"/>
<path d="M608.0 587.5L601.7 588.6L602.5 584.3Z" class="ah"/>
<text transform="translate(490.8,583.5) rotate(-90) scale(0.8,1)" class="lb">19</text>
<path d="M493 572V595" class="ul"/>
<path d="M493 595L506 631" class="ld"/>
<path d="M506.0 631.0L501.9 626.1L506.0 624.6Z" class="ah"/>
<text transform="translate(712.8,583.0) rotate(-90) scale(0.8,1)" class="lb">27</text>
<path d="M715 572V594" class="ul"/>
<path d="M715 594L742 658" class="ld"/>
<path d="M742.0 658.0L737.6 653.3L741.7 651.6Z" class="ah"/>
<text transform="translate(740.3,582.5) rotate(-90) scale(0.8,1)" class="lb">31</text>
<path d="M742.5 572V593" class="ul"/>
<path d="M742.5 593L750 645" class="ld"/>
<path d="M750.0 645.0L747.0 639.4L751.3 638.7Z" class="ah"/>
<text transform="translate(765.8,583.5) rotate(-90) scale(0.8,1)" class="lb">37</text>
<path d="M768 572V595" class="ul"/>
<path d="M768 595L763 632" class="ld"/>
<path d="M763.0 632.0L761.6 625.8L766.0 626.3Z" class="ah"/>
<text transform="translate(703.8,610.5) rotate(-90) scale(0.8,1)" class="lb">40</text>
<path d="M706 599V622" class="ul"/>
<path d="M706 622L732 672" class="ld"/>
<path d="M732.0 672.0L727.3 667.7L731.2 665.7Z" class="ah"/>
<text transform="translate(835.3,598.5) rotate(-90) scale(0.8,1)" class="lb">38</text>
<path d="M837.5 587V610" class="ul"/>
<path d="M837.5 610L842 657" class="ld"/>
<path d="M842.0 657.0L839.2 651.2L843.6 650.8Z" class="ah"/>
<text transform="translate(808.8,634.5) rotate(-90) scale(0.8,1)" class="lb">16</text>
<path d="M811 624V645" class="ul"/>
<path d="M811 645L817 662" class="ld"/>
<path d="M817.0 662.0L812.9 657.1L817.1 655.6Z" class="ah"/>
<text transform="translate(579.8,613.7) rotate(-90) scale(0.8,1)" class="lb">8</text>
<path d="M582 608V619.4" class="ul"/>
<path d="M582 619.4L620 635" class="ld"/>
<path d="M620.0 635.0L613.6 634.8L615.3 630.7Z" class="ah"/>
<text transform="translate(882.8,643.5) rotate(-90) scale(0.8,1)" class="lb">36</text>
<path d="M885 632V655" class="ul"/>
<path d="M885 655L832 682" class="ld"/>
<path d="M832.0 682.0L836.3 677.3L838.3 681.2Z" class="ah"/>
<text transform="translate(913.8,640.5) rotate(-90) scale(0.8,1)" class="lb">28</text>
<path d="M916 629V652" class="ul"/>
<path d="M916 652L872 685" class="ld"/>
<path d="M872.0 685.0L875.5 679.6L878.1 683.2Z" class="ah"/>
<text transform="translate(349.8,632.0) rotate(-90) scale(0.8,1)" class="lb">24</text>
<path d="M352 620V644" class="ul"/>
<path d="M352 644L397 672" class="ld"/>
<path d="M397.0 672.0L390.7 670.7L393.1 667.0Z" class="ah"/>
<text transform="translate(395.3,631.5) rotate(-90) scale(0.8,1)" class="lb">13</text>
<path d="M397.5 620V643" class="ul"/>
<path d="M397.5 643L415 671" class="ld"/>
<path d="M415.0 671.0L410.0 667.1L413.7 664.7Z" class="ah"/>
<text transform="translate(431.8,628.5) rotate(-90) scale(0.8,1)" class="lb">30</text>
<path d="M434 617V640" class="ul"/>
<path d="M434 640L431 674" class="ld"/>
<path d="M431.0 674.0L429.3 667.8L433.7 668.2Z" class="ah"/>
<text transform="translate(464.8,646.0) rotate(-90) scale(0.8,1)" class="lb">26</text>
<path d="M467 635V657" class="ul"/>
<path d="M467 657L445 700" class="ld"/>
<path d="M445.0 700.0L445.8 693.7L449.7 695.7Z" class="ah"/>
<text transform="translate(582.8,651.0) rotate(-90) scale(0.8,1)" class="lb">48</text>
<path d="M585 639V663" class="ul"/>
<path d="M585 663L623 666" class="ld"/>
<path d="M623.0 666.0L616.8 667.7L617.2 663.3Z" class="ah"/>
<text transform="translate(781.8,678.0) rotate(-90) scale(0.8,1)" class="lb">5</text>
<path d="M784 664V692" class="ul"/>
<path d="M784 692L781 695" class="ld"/>
<path d="M781.0 695.0L783.7 689.2L786.8 692.3Z" class="ah"/>
<text transform="translate(764.8,715.5) rotate(-90) scale(0.8,1)" class="lb">12</text>
<path d="M767 704V727" class="ul"/>
<path d="M767 727L793 727" class="ld"/>
<path d="M793.0 727.0L787.0 729.2L787.0 724.8Z" class="ah"/>
<text transform="translate(548.8,737.5) rotate(-90) scale(0.8,1)" class="lb">18</text>
<path d="M551 726V749" class="ul"/>
<path d="M551 749L590 762" class="ld"/>
<path d="M590.0 762.0L583.6 762.2L585.0 758.0Z" class="ah"/>
<text transform="translate(383.8,726.0) rotate(-90) scale(0.8,1)" class="lb">41</text>
<path d="M386 715V737" class="ul"/>
<path d="M386 737L391 745" class="ld"/>
<path d="M391.0 745.0L386.0 741.1L389.7 738.7Z" class="ah"/>
<text transform="translate(328.3,748.0) rotate(-90) scale(0.8,1)" class="lb">43</text>
<path d="M330.5 736V760" class="ul"/>
<path d="M330.5 760L340 791" class="ld"/>
<path d="M340.0 791.0L336.1 785.9L340.3 784.6Z" class="ah"/>
<text transform="translate(354.8,741.0) rotate(-90) scale(0.8,1)" class="lb">45</text>
<path d="M357 730V752" class="ul"/>
<path d="M357 752L372 777" class="ld"/>
<path d="M372.0 777.0L367.0 773.0L370.8 770.7Z" class="ah"/>
<text transform="translate(472.8,767.0) rotate(-90) scale(0.8,1)" class="lb">42</text>
<path d="M475 755V779" class="ul"/>
<path d="M475 755L445 712" class="ld"/>
<path d="M445.0 712.0L450.2 715.7L446.6 718.2Z" class="ah"/>
<text transform="translate(504.8,761.0) rotate(-90) scale(0.8,1)" class="lb">9</text>
<path d="M507 751V771" class="ul"/>
<path d="M507 751L482 724" class="ld"/>
<path d="M482.0 724.0L487.7 726.9L484.5 729.9Z" class="ah"/>
<text transform="translate(354.8,928.5) rotate(-90) scale(0.8,1)" class="lb">49</text>
<path d="M357 917V940" class="ul"/>
<path d="M357 917L356 875" class="ld"/>
<path d="M356.0 875.0L358.3 880.9L353.9 881.1Z" class="ah"/>
<text transform="translate(176.8,966.0) rotate(-90) scale(0.8,1)" class="lb">17</text>
<path d="M179 954V978" class="ul"/>
<path d="M179 954L191 897" class="ld"/>
<path d="M191.0 897.0L191.9 903.3L187.6 902.4Z" class="ah"/>
<text transform="translate(225.3,966.0) rotate(-90) scale(0.8,1)" class="lb">10</text>
<path d="M227.5 954V978" class="ul"/>
<path d="M227.5 954L235 887" class="ld"/>
<path d="M235.0 887.0L236.5 893.2L232.1 892.7Z" class="ah"/>
<text transform="translate(281.8,960.5) rotate(-90) scale(0.8,1)" class="lb">23</text>
<path d="M284 949V972" class="ul"/>
<path d="M284 949L287 890" class="ld"/>
<path d="M287.0 890.0L288.9 896.1L284.5 895.9Z" class="ah"/>
<text transform="translate(577.8,842.5) rotate(-90) scale(0.8,1)" class="lb">39</text>
<path d="M580 831V854" class="ul"/>
<path d="M580 854L604 870" class="ld"/>
<path d="M604.0 870.0L597.8 868.5L600.2 864.8Z" class="ah"/>
<text transform="translate(557.8,864.0) rotate(-90) scale(0.8,1)" class="lb">27</text>
<path d="M560 852V876" class="ul"/>
<path d="M560 876L591 895" class="ld"/>
<path d="M591.0 895.0L584.7 893.7L587.0 890.0Z" class="ah"/>
<text transform="translate(537.3,890.5) rotate(-90) scale(0.8,1)" class="lb">31</text>
<path d="M539.5 879V902" class="ul"/>
<path d="M539.5 902L582 909" class="ld"/>
<path d="M582.0 909.0L575.7 910.2L576.4 905.9Z" class="ah"/>
<text transform="translate(562.8,980.0) rotate(-90) scale(0.8,1)" class="lb">1</text>
<path d="M565 970V990" class="ul"/>
<path d="M565 970L622 926" class="ld"/>
<path d="M622.0 926.0L618.6 931.4L615.9 927.9Z" class="ah"/>
<text transform="translate(603.8,983.0) rotate(-90) scale(0.8,1)" class="lb">47</text>
<path d="M606 971V995" class="ul"/>
<path d="M606 971L647 966" class="ld"/>
<path d="M647.0 966.0L641.3 968.9L640.8 964.5Z" class="ah"/>
<text transform="translate(603.3,1026.5) rotate(-90) scale(0.8,1)" class="lb">51</text>
<path d="M605.5 1016V1037" class="ul"/>
<path d="M605.5 1037L651 1054" class="ld"/>
<path d="M651.0 1054.0L644.6 1054.0L646.1 1049.8Z" class="ah"/>
<text transform="translate(823.8,837.5) rotate(-90) scale(0.8,1)" class="lb">3</text>
<path d="M826 830V845" class="ul"/>
<path d="M826 830L822 784" class="ld"/>
<path d="M822.0 784.0L824.7 789.8L820.3 790.2Z" class="ah"/>
<text transform="translate(789.8,831.5) rotate(-90) scale(0.8,1)" class="lb">28</text>
<path d="M792 820V843" class="ul"/>
<path d="M792 820L789 811" class="ld"/>
<path d="M789.0 811.0L793.0 816.0L788.8 817.4Z" class="ah"/>
<text transform="translate(850.8,846.5) rotate(-90) scale(0.8,1)" class="lb">7</text>
<path d="M853 838V855" class="ul"/>
<path d="M853 838L882 775" class="ld"/>
<path d="M882.0 775.0L881.5 781.4L877.5 779.5Z" class="ah"/>
<text transform="translate(874.1,880.0) rotate(-90) scale(0.8,1)" class="lb">34</text>
<path d="M876.3 868V892" class="ul"/>
<path d="M876.3 868L888.6 831.3" class="ld"/>
<path d="M888.6 831.3L888.8 837.7L884.6 836.3Z" class="ah"/>
<text transform="translate(902.8,901.5) rotate(-90) scale(0.8,1)" class="lb">21</text>
<path d="M905 890V913" class="ul"/>
<path d="M905 890L917 869" class="ld"/>
<path d="M917.0 869.0L915.9 875.3L912.1 873.1Z" class="ah"/>
<text transform="translate(941.4,904.3) rotate(-90) scale(0.8,1)" class="lb">20</text>
<path d="M943.6 892V916.6" class="ul"/>
<path d="M943.6 892L961 868" class="ld"/>
<path d="M961.0 868.0L959.3 874.1L955.7 871.6Z" class="ah"/>
<text transform="translate(981.8,902.9) rotate(-90) scale(0.8,1)" class="lb">33</text>
<path d="M984 890V915.7" class="ul"/>
<path d="M984 890L993 856" class="ld"/>
<path d="M993.0 856.0L993.6 862.4L989.3 861.2Z" class="ah"/>
<text transform="translate(1033.8,871.3) rotate(-90) scale(0.8,1)" class="lb">32</text>
<path d="M1036 859V883.6" class="ul"/>
<path d="M1036 859L1014 825" class="ld"/>
<path d="M1014.0 825.0L1019.1 828.8L1015.4 831.2Z" class="ah"/>
<text transform="translate(480.8,863.2) rotate(-90) scale(0.8,1)" class="lb">2</text>
<path d="M483 856.4V870" class="ul"/>
<path d="M483 856.4L426.7 812.7" class="ld"/>
<path d="M426.7 812.7L432.8 814.6L430.1 818.1Z" class="ah"/>
<text transform="translate(442.0,889.7) rotate(-90) scale(0.8,1)" class="lb">6</text>
<path d="M444.2 882.7V896.7" class="ul"/>
<path d="M444.2 882.7L415 850" class="ld"/>
<path d="M415.0 850.0L420.6 853.0L417.4 855.9Z" class="ah"/>
<text transform="translate(517.6,915.0) rotate(-90) scale(0.8,1)" class="lb">37</text>
<path d="M519.8 903.4V926.7" class="ul"/>
<path d="M519.8 926.7L570.2 927.2" class="ld"/>
<path d="M570.2 927.2L564.2 929.3L564.2 924.9Z" class="ah"/>
<rect x="543.8" y="675.2" width="18.8" height="23.8" style="fill:none;stroke:#111;stroke-width:1.3"/>
<text transform="translate(559.6,687.1) rotate(-90) scale(0.8,1)" class="lb">52</text>
<path d="M562.6 698L603 698.7" class="ld"/><path d="M603.0 698.7L597.0 700.8L597.0 696.4Z" class="ah"/>
</svg>
</body></html>
